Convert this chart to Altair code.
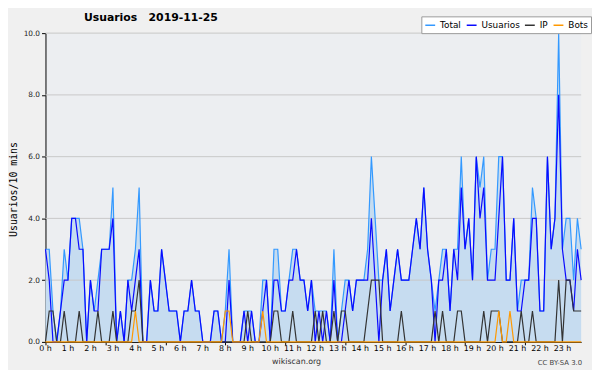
import altair as alt
import pandas as pd

# 10-minute slots, 0 h .. 23 h 50
total = [3,3,1,0,1,3,2,4,4,4,3,0,2,1,2,3,3,3,5,0,1,0,2,2,3,5,0,0,2,1,
         1,3,2,1,1,1,0,1,1,2,1,1,0,0,0,1,1,0,1,3,0,0,0,1,1,1,0,0,2,2,
         0,3,3,1,1,2,3,3,2,2,1,2,1,1,1,1,0,3,0,1,2,2,1,2,2,2,3,6,4,2,
         2,3,1,2,3,2,2,2,3,4,3,5,3,2,1,2,3,3,1,3,3,6,3,4,2,6,5,6,2,3,
         3,6,6,2,2,4,1,2,2,2,5,4,1,1,6,3,4,10,3,4,4,2,4,3]
usuarios = [3,2,0,0,1,2,2,4,4,3,3,0,2,1,1,3,3,3,4,0,1,0,2,1,2,3,0,0,2,1,
            1,3,2,1,1,1,0,1,1,2,1,1,0,0,0,1,1,0,0,2,0,0,0,1,0,1,0,0,1,2,
            0,2,2,1,1,2,2,3,2,2,1,2,0,1,0,1,0,2,0,0,1,2,1,2,2,2,2,4,2,0,
            2,3,1,2,3,2,2,2,3,4,3,5,3,2,0,2,2,3,1,3,2,5,3,4,2,6,4,5,2,2,
            2,4,6,2,2,4,1,1,2,2,4,4,1,1,6,3,4,8,3,2,2,1,3,2]
ip = [0,1,1,0,0,1,0,0,0,1,0,0,0,0,1,0,0,0,1,0,0,0,0,1,1,2,0,0,0,0,
      0,0,0,0,0,0,0,0,0,0,0,0,0,0,0,0,0,0,0,0,0,0,0,0,1,0,0,0,0,0,
      0,1,1,0,0,0,1,0,0,0,0,0,1,0,1,0,0,1,0,1,1,0,0,0,0,0,1,2,2,2,
      0,0,0,0,0,1,0,0,0,0,0,0,0,0,1,0,1,0,0,0,1,1,0,0,0,0,0,1,0,1,
      1,1,0,0,0,0,0,1,0,0,1,0,0,0,0,0,0,2,0,2,2,1,1,1]
bots = [0]*144
for k in (24, 48, 49, 58, 121, 124):
    bots[k] = 1

series = ["Total", "Usuarios", "IP", "Bots"]
colors = ["#3399ff", "#0a0aff", "#333333", "#ff9900"]
grid_vals = [2, 4, 6, 8, 10]
y_ticks = [k / 2 for k in range(21)]
slots = list(range(144))
hour_ticks = list(range(0, 144, 6))
hour_labels = [f"{h} h" for h in range(24)]

df = pd.DataFrame({"i": slots, "Total": total, "Usuarios": usuarios,
                   "IP": ip, "Bots": bots})
hours = pd.DataFrame({"i": hour_ticks, "lab": hour_labels})

FONT = "DejaVu Sans"

x_scale = alt.Scale(domain=[0, 143], nice=False, zero=False)
x_enc = alt.X("i:Q", scale=x_scale,
              axis=alt.Axis(values=slots, labels=False,
                            grid=False, tickSize=3, tickColor="black",
                            domainColor="black",
                            title="wikiscan.org", titleFont=FONT, titleFontSize=8,
                            titleFontWeight="normal", titleColor="#333",
                            titleX=254, titleY=20, titleAlign="center",
                            titleBaseline="middle"))

y_scale = alt.Scale(domain=[0, 10], nice=False)
y_axis = alt.Axis(values=y_ticks,
                  labelExpr="datum.value % 2 == 0 ? format(datum.value, '.1f') : ''",
                  grid=False, tickSize=4, tickColor="black", domainColor="black",
                  labelFont=FONT, labelFontSize=7.5, labelColor="#222",
                  labelPadding=2, labelOverlap=False,
                  title="Usuarios/10 mins", titleFont="DejaVu Sans Mono",
                  titleFontSize=10, titleFontWeight="normal", titleColor="black",
                  titleX=-32, titleY=158, titleAlign="center",
                  titleBaseline="middle", titleAngle=-90)

color_scale = alt.Scale(domain=series, range=colors)
legend = alt.Legend(orient="none", legendX=381, legendY=-17, direction="horizontal",
                    title=None, symbolType="stroke", symbolSize=100,
                    symbolStrokeWidth=1.5, labelFont=FONT, labelFontSize=9,
                    labelColor="black", fillColor="white", strokeColor="#999999",
                    padding=3, columnPadding=2, labelOffset=4)

base = alt.Chart(df)

area = base.mark_area(color="#c6dcf0", opacity=1).encode(
    x=x_enc, y=alt.Y("Total:Q", scale=y_scale, axis=y_axis))

grid = alt.Chart(pd.DataFrame({"g": grid_vals})).mark_rule(
    color="#c8c8c8", strokeWidth=1).encode(y=alt.Y("g:Q", scale=y_scale))

hour_text = alt.Chart(hours).mark_text(
    font=FONT, fontSize=8, color="black", align="center", baseline="top").encode(
    x=alt.X("i:Q", scale=x_scale), y=alt.value(316), text="lab:N")

lines = []
for s in series:
    lines.append(base.transform_fold([s], as_=["serie", "v"]).mark_line(strokeWidth=1.2).encode(
        x=alt.X("i:Q", scale=x_scale),
        y=alt.Y("v:Q", scale=y_scale),
        color=alt.Color("serie:N", scale=color_scale, legend=legend)))

credit = alt.Chart(pd.DataFrame({"t": ["CC BY-SA 3.0"]})).mark_text(
    font=FONT, fontSize=7, color="#444", align="right", baseline="middle").encode(
    text="t:N", x=alt.value(544), y=alt.value(334))

chart = alt.layer(area, grid, *lines, hour_text, credit).properties(
    width=543, height=313,
    autosize=alt.AutoSizeParams(type="none"),
    padding={"left": 38, "top": 23, "right": 11, "bottom": 26},
    background="#f0f0f0",
    title=alt.TitleParams("Usuarios\u00a0\u00a0\u00a02019-11-25", anchor="start",
                          frame="group", dx=39, dy=25, font=FONT, fontSize=11,
                          fontWeight="bold", color="black", offset=9,
                          baseline="alphabetic"),
).configure_view(stroke=None, fill="#eceef1")

chart.save("out.html", embed_options={"renderer": "svg", "actions": False})
